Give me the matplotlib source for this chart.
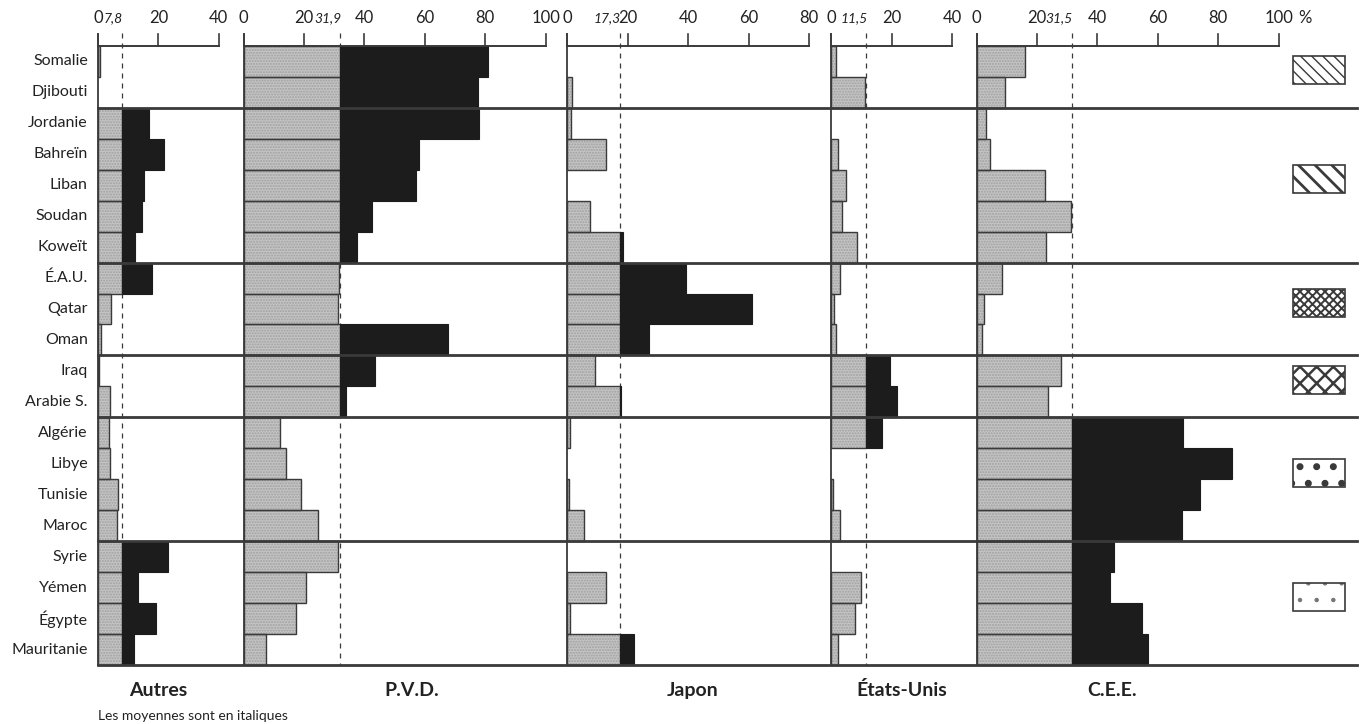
import matplotlib
matplotlib.use("Agg")
import matplotlib.pyplot as plt
from matplotlib.patches import Rectangle

plt.rcParams["font.family"] = ["Lato", "DejaVu Sans"]

# --- données (% des échanges par partenaire) ---
pays = ["Somalie", "Djibouti", "Jordanie", "Bahreïn", "Liban", "Soudan", "Koweït",
        "É.A.U.", "Qatar", "Oman", "Iraq", "Arabie S.", "Algérie", "Libye",
        "Tunisie", "Maroc", "Syrie", "Yémen", "Égypte", "Mauritanie"]

autres = [0.5, 0, 16.8, 21.7, 15.1, 14.6, 12.1, 17.9, 4.4, 1.1,
          0.3, 4.1, 3.8, 4.0, 6.6, 6.4, 23.1, 13.2, 19.3, 11.8]
pvd = [80.8, 77.7, 78.0, 58.1, 57.0, 42.4, 37.7, 31.5, 31.4, 67.8,
       43.4, 33.8, 12.2, 13.9, 19.1, 24.7, 31.2, 20.8, 17.4, 7.4]
japon = [0, 1.6, 1.1, 12.7, 0, 7.6, 18.5, 39.3, 61.2, 27.1,
         9.2, 17.6, 0.8, 0, 0.5, 5.4, 0, 12.7, 1.0, 22.2]
etats_unis = [1.5, 11.1, 0, 2.3, 4.9, 3.7, 8.4, 2.8, 0.8, 1.5,
              19.3, 21.8, 16.9, 0, 0.4, 2.8, 0, 9.7, 7.7, 2.1]
cee = [16.0, 9.3, 3.0, 4.3, 22.5, 31.4, 23.1, 8.4, 2.3, 1.8,
       27.8, 23.6, 68.4, 84.4, 74.0, 67.9, 45.6, 44.1, 54.7, 56.7]

moyennes = [7.8, 31.9, 17.3, 11.5, 31.5]
noms = ["Autres", "P.V.D.", "Japon", "États-Unis", "C.E.E."]
maxi = [40, 100, 80, 40, 100]
graduations = [[0, 20, 40], [0, 20, 40, 60, 80, 100], [0, 20, 40, 60, 80],
               [0, 20, 40], [0, 20, 40, 60, 80, 100]]
series = [autres, pvd, japon, etats_unis, cee]

# premières lignes de chaque groupe (séparateurs) et motifs de la légende
debut_groupes = [0, 2, 7, 10, 12, 16, 20]
motifs = ["\\\\\\", "\\\\", "xxxx", "xx", ".", "."]
epaisseur_motif = [1.0, 2.0, 1.4, 1.8, 2.6, 0.8]
couleur_motif = ["#3a3a3a"] * 5 + ["#777777"]

# --- mise en page ---
decalage = [0, 48.2, 155.4, 242.8, 290.9]      # origine de chaque panneau
pos_noms = [19.9, 55.6, 41.6, 23.2, 44.9]        # centre du titre bas (dans le panneau)
GRIS = "#c4c4c4"
NOIR = "#1c1c1c"
TRAIT = "#3a3a3a"
TEXTE = "#222222"

fig = plt.figure(figsize=(13.65, 7.24), dpi=100)
ax = fig.add_axes([0, 0, 1, 1])
ax.set_xlim(-32.45, 419.5)
ax.set_ylim(21.39, -1.97)
ax.axis("off")

n = len(pays)
y = list(range(n))
bas = n - 0.5

for serie, off, moy, vmax, ticks, nom, pn in zip(series, decalage, moyennes, maxi,
                                                   graduations, noms, pos_noms):
    gris = [min(v, moy) for v in serie]
    noir = [max(v - moy, 0) for v in serie]
    yg = [yy for yy, v in zip(y, gris) if v > 0]
    wg = [v for v in gris if v > 0]
    yn = [yy for yy, v in zip(y, noir) if v > 0]
    wn = [v for v in noir if v > 0]
    # texture pointillée + contour
    ax.barh(yg, wg, left=off, height=1.0, color=GRIS, edgecolor="#a0a0a0",
            linewidth=0, hatch="......", zorder=2)
    ax.barh(yg, wg, left=off, height=1.0, fill=False, edgecolor=TRAIT,
            linewidth=1.0, zorder=3)
    ax.barh(yn, wn, left=off + moy, height=1.0, color=NOIR, edgecolor=NOIR,
            linewidth=0.8, zorder=3)

    # axe du haut
    ax.plot([off, off + vmax], [-0.5, -0.5], color=TRAIT, lw=1.4, zorder=4)
    for t in ticks:
        ax.plot([off + t, off + t], [-0.5, -0.86], color=TRAIT, lw=1.2, zorder=4)
        ax.text(off + t, -1.38, str(t), ha="center", va="center", fontsize=12,
                color=TEXTE)
    ax.plot([off, off], [-0.86, bas], color=TRAIT, lw=1.3, zorder=4)
    ax.plot([off + moy, off + moy], [-0.9, bas], color=TRAIT, lw=0.9,
            ls=(0, (4, 4)), zorder=1)
    ax.text(off + moy + 0.4, -1.38, f"{moy}".replace(".", ","), ha="right",
            va="center", fontsize=10, style="italic", color=TEXTE)
    ax.text(off + pn, 20.3, nom, ha="center", va="center", fontsize=14,
            fontweight="bold", color=TEXTE)

ax.text(decalage[-1] + 108.7, -1.38, "%", ha="center", va="center", fontsize=12,
        color=TEXTE)

# séparateurs de groupes
x_fin = 416.9
for b in debut_groupes[1:]:
    ax.plot([0, x_fin], [b - 0.5, b - 0.5], color=TRAIT, lw=2.0, zorder=5)

# noms des pays
for yy, p in zip(y, pays):
    ax.text(-3.4, yy, p, ha="right", va="center", fontsize=11.5, color=TEXTE)

# cases de légende
for d, f, m, ep, cm in zip(debut_groupes[:-1], debut_groupes[1:], motifs,
                           epaisseur_motif, couleur_motif):
    yc = (d + f - 1) / 2 - 0.2
    fond = Rectangle((395.7, yc - 0.45), 17.2, 0.9, facecolor="white",
                     edgecolor=cm, linewidth=0, hatch=m, zorder=5)
    if hasattr(fond, "set_hatch_linewidth"):
        fond.set_hatch_linewidth(ep)
    ax.add_patch(fond)
    ax.add_patch(Rectangle((395.7, yc - 0.45), 17.2, 0.9, fill=False,
                           edgecolor=TRAIT, linewidth=1.2, zorder=6))

ax.text(0, 21.13, "Les moyennes sont en italiques", ha="left", va="center",
        fontsize=10, color=TEXTE)

fig.savefig("out.png", dpi=100, facecolor="white")
